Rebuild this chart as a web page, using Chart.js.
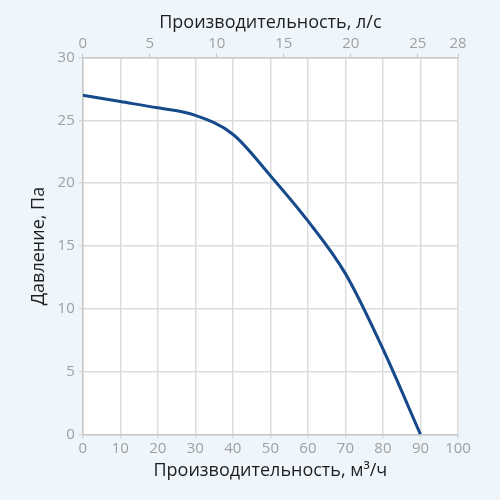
<!DOCTYPE html>
<html>
<head>
<meta charset="utf-8">
<script src="https://cdn.jsdelivr.net/npm/chart.js@4"></script>
<style>
  html, body { margin: 0; padding: 0; background: #eef6fc; }
  #wrap { width: 500px; height: 500px; }
</style>
</head>
<body>
<div id="wrap"><canvas id="fanChart" width="500" height="500"></canvas></div>
<script>
// расход, м3/ч
const flowM3h = [0, 10, 20, 30, 40, 50, 60, 70, 80, 90];
// давление, Па
const pressure = [27, 26.5, 26.0, 25.4, 23.9, 20.6, 17.0, 12.8, 6.8, 0];
// верхняя шкала, л/с
const topTicks = [0, 5, 10, 15, 20, 25, 28];

const tickColor = '#a0a0a0';
const titleColor = '#1e1e1e';
const fontName = "'Open Sans', 'Noto Sans', sans-serif";

/* белая область графика */
const plotBg = {
    id: 'plotBg',
    beforeDraw(chart) {
        const { ctx, chartArea: a } = chart;
        ctx.save();
        ctx.fillStyle = '#ffffff';
        ctx.fillRect(a.left, a.top, a.right - a.left, a.bottom - a.top);
        ctx.restore();
    }
};

const points = flowM3h.map((x, i) => ({ x: x, y: pressure[i] }));

new Chart(document.getElementById('fanChart'), {
    type: 'line',
    data: {
        datasets: [{
            data: points,
            borderColor: '#174a8b',
            borderWidth: 3,
            pointRadius: 0,
            cubicInterpolationMode: 'monotone',
            xAxisID: 'x',
            yAxisID: 'y'
        }, {
            data: [],
            xAxisID: 'x2',
            yAxisID: 'y'
        }]
    },
    options: {
        responsive: false,
        animation: false,
        layout: { padding: { left: 24, right: 42, top: 8, bottom: 14 } },
        plugins: { legend: { display: false }, tooltip: { enabled: false } },
        scales: {
            x: {
                type: 'linear',
                position: 'bottom',
                min: 0,
                max: 100,
                ticks: { stepSize: 10, color: tickColor, font: { family: fontName, size: 15 }, padding: 1 },
                grid: { color: '#dcdcdc', lineWidth: 1.5, tickLength: 4 },
                border: { color: '#c8c8c8', width: 1.5 },
                title: {
                    display: true,
                    text: 'Производительность, м³/ч',
                    color: titleColor,
                    font: { family: fontName, size: 18 },
                    padding: { top: 2 }
                }
            },
            x2: {
                type: 'linear',
                position: 'top',
                min: 0,
                max: 28,
                afterBuildTicks(axis) {
                    axis.ticks = topTicks.map(v => ({ value: v }));
                },
                ticks: { color: tickColor, font: { family: fontName, size: 15 }, padding: 1 },
                grid: { drawOnChartArea: false, tickLength: 4, color: '#c8c8c8' },
                border: { color: '#c8c8c8', width: 1.5 },
                title: {
                    display: true,
                    text: 'Производительность, л/с',
                    color: titleColor,
                    font: { family: fontName, size: 18 },
                    padding: { bottom: 0 }
                }
            },
            y: {
                min: 0,
                max: 30,
                ticks: { stepSize: 5, color: tickColor, font: { family: fontName, size: 15 }, padding: 4 },
                grid: { color: '#dcdcdc', lineWidth: 1.5, tickLength: 4 },
                border: { color: '#c8c8c8', width: 1.5 },
                title: {
                    display: true,
                    text: 'Давление, Па',
                    color: titleColor,
                    font: { family: fontName, size: 18 },
                    padding: { bottom: 4 }
                }
            }
        }
    },
    plugins: [plotBg]
});
</script>
</body>
</html>
